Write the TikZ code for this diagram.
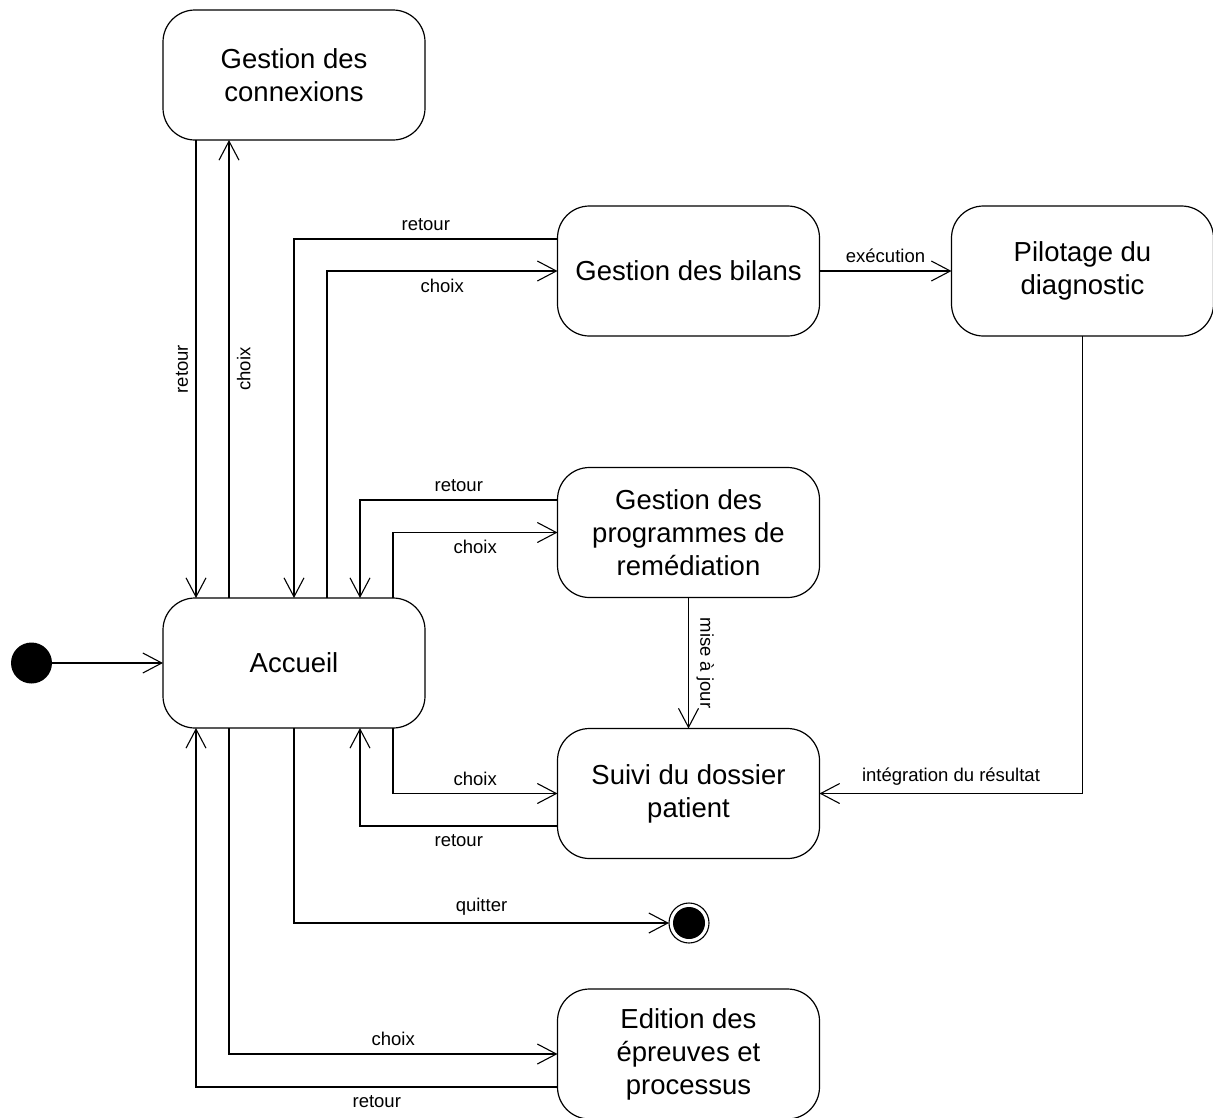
\documentclass[tikz,border=0pt]{standalone}
\usepackage{fontspec}
\setmainfont{Liberation Sans}
\usetikzlibrary{arrows.meta}
\begin{document}
\begin{tikzpicture}[x=1pt,y=-1pt,
  state/.style={draw, line width=1.2pt, rounded corners=32pt, minimum width=262pt, minimum height=130pt, outer sep=0pt, align=center, font=\fontsize{27.5}{33}\selectfont, inner sep=0pt},
  arr/.style={line width=1.1pt, -{Straight Barb[length=19pt, width=20pt, line width=1.1pt]}},
  lab/.style={font=\fontsize{18.5}{22}\selectfont, inner sep=7.5pt}]
\useasboundingbox (0,0) rectangle (1213,1117);
\node[state] (con) at (294,75) {Gestion des\\connexions};
\node[state] (bil) at (688.5,271) {Gestion des bilans};
\node[state] (pil) at (1082.5,271) {Pilotage du\\diagnostic};
\node[state] (prog) at (688.5,532.5) {Gestion des\\programmes de\\remédiation};
\node[state] (acc) at (294,663) {Accueil};
\node[state] (suivi) at (688.5,793.5) {Suivi du dossier\\patient};
\node[state] (edit) at (688.5,1054) {Edition des\\épreuves et\\processus};
\node[circle, fill=black, minimum size=41pt, inner sep=0pt, outer sep=0pt] (init) at (31.5,663) {};
\node[circle, draw, line width=1.1pt, minimum size=40pt, inner sep=0pt, outer sep=0pt,
  path picture={\fill[black] (path picture bounding box.center) circle (16pt);}] (fin) at (689,923) {};

\draw[arr] (init) -- (acc.west);
\draw[arr] ([xshift=33pt]con.south west) -- node[lab, midway, rotate=90, anchor=south] {retour} ([xshift=33pt]acc.north west);
\draw[arr] ([xshift=66pt]acc.north west) -- node[lab, midway, rotate=90, anchor=north] {choix} ([xshift=66pt]con.south west);
\draw[arr] ([yshift=32pt]bil.west) -| node[lab, pos=0.25, above] {retour} (acc.north);
\draw[arr] ([xshift=33pt]acc.north) |- node[lab, pos=0.75, below] {choix} (bil.west);
\draw[arr] (bil.east) -- node[lab, midway, above] {exécution} (pil.west);
\draw[arr] ([yshift=32.5pt]prog.west) -| node[lab, pos=0.25, above] {retour} ([xshift=-65pt]acc.north east);
\draw[arr] ([xshift=-32pt]acc.north east) |- node[lab, pos=0.75, below] {choix} (prog.west);
\draw[arr] (prog.south) -- node[lab, midway, rotate=-90, anchor=south] {mise à jour} (suivi.north);
\draw[arr] (pil.south) |- node[lab, pos=0.75, above] {intégration du résultat} (suivi.east);
\draw[arr] ([xshift=-32pt]acc.south east) |- node[lab, pos=0.75, above] {choix} (suivi.west);
\draw[arr] ([yshift=-32.5pt]suivi.west) -| node[lab, pos=0.25, below] {retour} ([xshift=-65pt]acc.south east);
\draw[arr] (acc.south) |- node[lab, pos=0.75, above] {quitter} (fin.west);
\draw[arr] ([xshift=66pt]acc.south west) |- node[lab, pos=0.75, above] {choix} (edit.west);
\draw[arr] ([yshift=-33pt]edit.west) -| node[lab, pos=0.25, below] {retour} ([xshift=33pt]acc.south west);
\end{tikzpicture}
\end{document}
